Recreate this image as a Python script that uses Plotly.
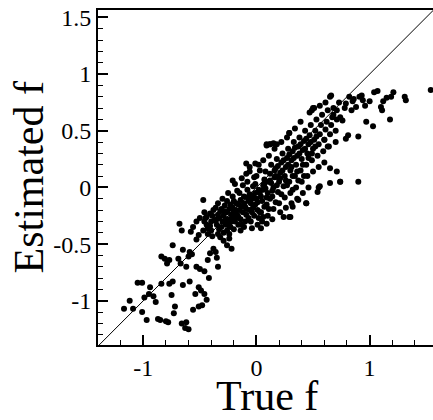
import plotly.graph_objects as go

# Lower-left tail (true f, estimated f)
tail_low_x = [-1.17, -1.12, -1.09, -1.05, -1.01, -1.01, -0.99, -0.97, -0.95, -0.94,
              -0.91, -0.89, -0.87, -0.85, -0.84, -0.84, -0.81, -0.79, -0.77, -0.80,
              -0.78, -0.77, -0.75, -0.74, -0.74, -0.73, -0.72, -0.69, -0.67, -0.68,
              -0.66, -0.66, -0.63, -0.62, -0.60, -0.65, -0.65, -0.62, -0.60, -0.59,
              -0.57, -0.59, -0.56, -0.54, -0.53, -0.50, -0.53, -0.51, -0.51, -0.49,
              -0.46, -0.51, -0.48, -0.47, -0.46, -0.44, -0.42, -0.43, -0.41, -0.58,
              -0.56, -0.53, -0.50, -0.47, -0.46, -0.44, -0.41, -0.43, -0.40, -0.38,
              -0.36, -0.35, -0.34, -0.34, -0.32, -0.29, -0.26, -0.24, -0.22, -0.26]
tail_low_y = [-1.07, -1.00, -1.07, -0.84, -0.84, -1.10, -0.97, -1.17, -0.94, -0.88,
              -0.96, -1.01, -1.16, -1.17, -0.85, -0.61, -0.63, -0.67, -0.64, -1.18,
              -1.19, -0.85, -0.95, -0.83, -0.51, -1.11, -1.05, -0.63, -0.67, -0.32,
              -0.38, -1.20, -1.24, -1.19, -1.25, -0.86, -0.55, -0.70, -0.61, -0.57,
              -0.59, -0.83, -1.08, -0.94, -0.70, -0.72, -0.46, -0.42, -0.88, -0.91,
              -0.94, -1.05, -1.04, -0.11, -0.74, -0.99, -0.80, -0.64, -0.58, -0.39,
              -0.35, -0.30, -0.27, -0.38, -0.30, -0.26, -0.23, -0.41, -0.38, -0.54,
              -0.57, -0.62, -0.70, -0.41, -0.44, -0.47, -0.51, -0.45, -0.54, -0.38]

# Dense core
core_x = [-0.45, -0.44, -0.43, -0.46, -0.40, -0.39, -0.41, -0.38, -0.39, -0.37,
          -0.35, -0.34, -0.36, -0.33, -0.35, -0.32, -0.34, -0.30, -0.29, -0.31,
          -0.28, -0.30, -0.27, -0.29, -0.28, -0.25, -0.24, -0.26, -0.23, -0.25,
          -0.22, -0.24, -0.26, -0.23, -0.20, -0.19, -0.21, -0.18, -0.20, -0.17,
          -0.19, -0.21, -0.18, -0.15, -0.14, -0.16, -0.13, -0.15, -0.12, -0.14,
          -0.16, -0.13, -0.10, -0.09, -0.11, -0.08, -0.10, -0.07, -0.09, -0.11,
          -0.08, -0.06, -0.05, -0.04, -0.06, -0.03, -0.05, -0.02, -0.04, -0.06,
          -0.03, 0.00, 0.01, -0.01, 0.02, 0.00, 0.03, 0.01, 0.02, -0.01,
          0.03, 0.05, 0.06, 0.04, 0.07, 0.05, 0.08, 0.06, 0.04, 0.07,
          0.09, 0.06, 0.10, 0.11, 0.09, 0.12, 0.10, 0.13, 0.11, 0.09,
          0.12, 0.12, 0.15, 0.16, 0.14, 0.17, 0.15, 0.18, 0.16, 0.14,
          0.17, 0.18, 0.20, 0.21, 0.19, 0.22, 0.20, 0.23, 0.21, 0.22,
          0.19, 0.25, 0.26, 0.24, 0.27, 0.25, 0.28, 0.26, 0.27, 0.24,
          0.30, 0.31, 0.29, 0.32, 0.30, 0.33, 0.31, 0.29, 0.32, 0.30,
          0.35, 0.36, 0.34, 0.37, 0.35, 0.38, 0.36, 0.34, 0.40, 0.41,
          0.39, 0.42, 0.40, 0.43, 0.41, 0.39, 0.44, 0.45, 0.46, 0.44,
          0.47, 0.45, 0.48, 0.46, 0.47, 0.50, 0.51, 0.49, 0.52, 0.50,
          0.53, 0.51, 0.55, 0.54, 0.55, 0.56, 0.54, 0.57, 0.55, 0.58,
          0.56, 0.60, 0.61, 0.59, 0.62, 0.60, 0.63, 0.65, 0.61, 0.65,
          0.66, 0.64, 0.67, 0.68, 0.70, 0.71, 0.70, 0.71, 0.73, 0.74]
core_y = [-0.27, -0.33, -0.36, -0.22, -0.30, -0.25, -0.34, -0.20, -0.43, -0.29,
          -0.33, -0.24, -0.18, -0.37, -0.28, -0.21, -0.14, -0.30, -0.25, -0.35,
          -0.16, -0.10, -0.33, -0.40, -0.21, -0.28, -0.19, -0.12, -0.35, -0.05,
          -0.24, -0.41, -0.31, -0.15, -0.22, -0.30, -0.08, -0.14, -0.37, -0.03,
          0.03, -0.18, -0.27, -0.20, -0.11, -0.26, -0.33, -0.05, 0.02, -0.38,
          -0.15, 0.08, -0.17, -0.24, -0.08, 0.05, -0.30, -0.12, 0.12, -0.35,
          -0.02, 0.18, -0.14, -0.22, -0.06, 0.01, -0.30, 0.09, -0.36, 0.14,
          -0.18, -0.10, -0.20, 0.03, -0.27, 0.10, -0.05, -0.33, 0.20, -0.15,
          0.15, -0.12, -0.02, -0.22, 0.07, -0.30, 0.14, 0.24, -0.36, -0.17,
          0.37, 0.02, -0.05, 0.05, -0.15, 0.12, -0.25, 0.20, 0.28, -0.32,
          -0.10, 0.38, 0.00, 0.09, -0.08, 0.17, -0.19, 0.25, 0.34, -0.28,
          -0.13, 0.38, 0.05, 0.13, -0.04, 0.22, -0.14, 0.30, -0.22, 0.40,
          0.09, 0.10, 0.18, 0.01, 0.26, -0.09, 0.34, -0.18, 0.44, -0.26,
          0.15, 0.24, 0.05, 0.32, -0.05, 0.40, -0.14, 0.48, 0.10, -0.26,
          0.20, 0.28, 0.10, 0.36, 0.00, 0.44, -0.10, 0.52, 0.25, 0.33,
          0.15, 0.41, 0.05, 0.50, -0.05, 0.58, -0.14, 0.30, 0.38, 0.20,
          0.46, 0.10, 0.55, 0.00, 0.66, 0.34, 0.42, 0.24, 0.50, 0.14,
          0.60, 0.70, 0.00, -0.04, 0.38, 0.47, 0.28, 0.55, 0.18, 0.64,
          0.72, 0.42, 0.51, 0.32, 0.58, 0.22, 0.68, 0.04, 0.75, 0.47,
          0.55, 0.36, 0.62, 0.70, 0.50, 0.60, 0.40, 0.14, 0.75, 0.05]

# Extra core density
fill_x = [-0.33, -0.31, -0.27, -0.26, -0.22, -0.21, -0.19, -0.17, -0.16, -0.14,
          -0.12, -0.11, -0.09, -0.07, -0.06, -0.04, -0.02, -0.01, 0.01, 0.03,
          0.04, 0.06, 0.08, 0.09, 0.11, 0.13, 0.14, 0.16, 0.18, 0.19,
          0.21, 0.23, 0.24, 0.26, 0.28, 0.29, 0.31, 0.33, 0.34, 0.36,
          0.38, 0.39, 0.41, 0.43, 0.44, 0.46, 0.48, 0.49, 0.52, 0.53,
          -0.24, -0.20, -0.13, -0.08, -0.03, 0.02, 0.07, 0.12, 0.17, 0.22,
          0.27, 0.32, 0.37, 0.42, -0.21, -0.09, -0.01, 0.09, 0.12, 0.15,
          0.29, 0.32, 0.29, 0.37, 0.44, 0.56, 0.60, 0.63, 0.65, 0.50, 0.49]
fill_y = [-0.27, -0.19, -0.28, -0.22, -0.30, -0.26, -0.20, -0.24, -0.33, -0.28,
          -0.22, -0.14, -0.19, -0.27, -0.20, -0.10, -0.25, -0.05, -0.13, -0.22,
          -0.08, -0.26, -0.01, -0.09, -0.19, 0.04, -0.03, 0.15, 0.02, 0.19,
          0.08, 0.15, 0.24, 0.06, 0.20, 0.29, 0.18, 0.26, 0.35, 0.14,
          0.30, 0.38, 0.20, 0.34, 0.43, 0.26, 0.40, 0.30, 0.36, 0.45,
          -0.34, -0.12, -0.17, -0.09, -0.07, -0.02, 0.03, 0.06, 0.10, -0.06,
          0.02, -0.02, 0.06, 0.10, 0.06, 0.21, 0.21, 0.38, 0.38, 0.39,
          0.48, -0.17, -0.26, -0.11, -0.14, 0.01, 0.42, 0.36, 0.17, 0.70, 0.68]

# Upper-right tail
tail_high_x = [0.76, 0.74, 0.71, 0.68, 0.65, 0.66, 0.79, 0.79, 0.81, 0.82,
               0.85, 0.88, 0.90, 0.90, 0.93, 0.94, 0.97, 1.03, 1.04, 1.10,
               1.11, 1.12, 1.15, 1.18, 1.19, 1.21, 1.31, 1.32, 1.54, 0.78,
               0.84, 0.86, 0.91, 0.96, 1.00, 1.07, 0.74]
tail_high_y = [0.59, 0.62, 0.68, 0.64, 0.80, 0.81, 0.74, 0.43, 0.46, 0.80,
               0.76, 0.71, 0.45, 0.05, 0.81, 0.77, 0.58, 0.54, 0.84, 0.71,
               0.68, 0.76, 0.79, 0.60, 0.80, 0.84, 0.80, 0.77, 0.86, 0.70,
               0.68, 0.78, 0.80, 0.72, 0.76, 0.85, 0.05]

diag = [-1.4, 1.6]
x_ticks = [-1, 0, 1]
y_ticks = [-1, -0.5, 0, 0.5, 1, 1.5]
y_tick_text = ["-1", "-0.5", "0", "0.5", "1", "1.5"]

xs = tail_low_x + core_x + fill_x + tail_high_x
ys = tail_low_y + core_y + fill_y + tail_high_y

FONT = "Liberation Serif"

fig = go.Figure()
fig.add_trace(go.Scatter(x=diag, y=diag, mode="lines",
                         line=dict(color="black", width=1), hoverinfo="skip"))
fig.add_trace(go.Scatter(x=xs, y=ys, mode="markers",
                         marker=dict(color="black", size=6, line=dict(width=0))))

fig.update_layout(
    width=433, height=420,
    margin=dict(l=98, r=0, t=10, b=75),
    paper_bgcolor="white", plot_bgcolor="white",
    showlegend=False,
    font=dict(family=FONT, color="black", size=24),
    xaxis=dict(
        range=[-1.4, 1.56], tickvals=x_ticks, ticktext=[str(v) for v in x_ticks],
        ticks="inside", ticklen=10, tickwidth=2, tickcolor="black",
        showline=True, linecolor="black", linewidth=2, mirror=True,
        showgrid=False, zeroline=False, automargin=False,
        tickfont=dict(family=FONT, size=24, color="black"),
        minor=dict(dtick=0.2, tick0=0, ticks="inside", ticklen=5,
                   tickwidth=1, tickcolor="black", showgrid=False),
    ),
    yaxis=dict(
        range=[-1.39, 1.565], tickvals=y_ticks, ticktext=y_tick_text,
        ticks="inside", ticklen=10, tickwidth=2, tickcolor="black",
        showline=True, linecolor="black", linewidth=2, mirror=False,
        showgrid=False, zeroline=False, automargin=False,
        tickfont=dict(family=FONT, size=24, color="black"),
        minor=dict(dtick=0.1, tick0=0, ticks="inside", ticklen=5,
                   tickwidth=1, tickcolor="black", showgrid=False),
    ),
    annotations=[
        dict(text="True f", xref="paper", yref="paper", x=0.505, y=-0.153,
             xanchor="center", yanchor="middle", showarrow=False,
             font=dict(family=FONT, size=42, color="black")),
        dict(text="Estimated f", xref="paper", yref="paper", x=-0.206, y=0.5,
             xanchor="center", yanchor="middle", textangle=-90, showarrow=False,
             font=dict(family=FONT, size=42, color="black")),
    ],
)

fig.write_html("out.html")
